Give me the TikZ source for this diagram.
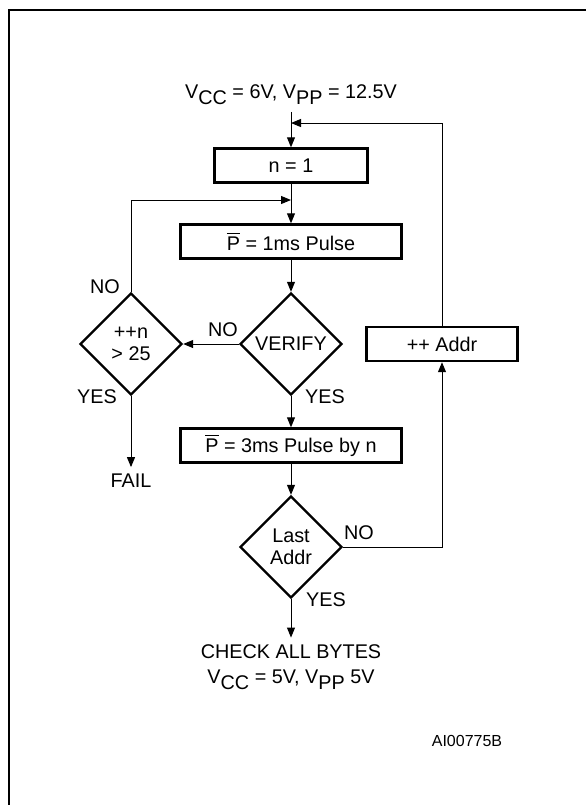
\documentclass[tikz,border=0pt]{standalone}
\usepackage{fontspec}
\setmainfont{Liberation Sans}
\usetikzlibrary{shapes.geometric,arrows.meta}
\newcommand\lowsub[1]{\raisebox{-0.55ex}{#1}}
\newcommand\pbar{$\overline{\mbox{P}}$}
\begin{document}
\begin{tikzpicture}[x=0.5pt,y=-0.5pt,
  every node/.style={font=\fontsize{9.9}{12.5}\selectfont},
  stepbox/.style={draw, rectangle, line width=1.2pt, minimum height=17pt, inner sep=0pt},
  test/.style={draw, diamond, line width=1.2pt, minimum width=51pt, minimum height=51pt, inner sep=0pt, align=center, font=\fontsize{9.9}{11}\selectfont},
  flow/.style={line width=0.5pt, -{Triangle[length=5pt,width=4pt]}}]
\useasboundingbox (0,0) rectangle (586,805);
% frame
\draw[line width=1pt] (9,805) -- (9,10) -- (586,10);
\node (start) at (291,95) {V\lowsub{CC} = 6V, V\lowsub{PP} = 12.5V};
\node[stepbox, minimum width=76.5pt] (n1) at (291,165.5) {n = 1};
\node[stepbox, minimum width=110.5pt] (p1) at (291,241.5) {\pbar\ = 1ms Pulse};
\node[test] (verify) at (291,344) {VERIFY};
\node[test] (inc) at (131,344) {++n\\> 25};
\node (fail) at (131,481) {FAIL};
\node[stepbox, minimum width=110.5pt] (p3) at (291,445.5) {\pbar\ = 3ms Pulse by n};
\node[test] (last) at (291,547) {Last\\Addr};
\node[stepbox, minimum width=75.5pt] (addr) at (442,344) {++ Addr};
\node[align=center] (check) at (291,667) {CHECK ALL BYTES\\V\lowsub{CC} = 5V, V\lowsub{PP} 5V};
\node[font=\fontsize{8}{9}\selectfont] (ref) at (467,741) {AI00775B};
% branch labels
\node (no1) at (105,287) {NO};
\node (no2) at (223,330) {NO};
\node (yes1) at (97,397) {YES};
\node (yes2) at (325,397) {YES};
\node (no3) at (359,533) {NO};
\node (yes3) at (326,600) {YES};
\coordinate (back) at (291,123);
\coordinate (again) at (291,200);
\draw[flow] (start) -- (n1);
\draw[flow] (n1) -- (p1);
\draw[flow] (inc.north) |- (again);
\draw[flow] (p1) -- (verify);
\draw[flow] (verify.west) -- (inc.east);
\draw[flow] (inc.south) -- (fail);
\draw[flow] (verify.south) -- (p3);
\draw[flow] (p3) -- (last);
\draw[flow] (last.east) -| (addr.south);
\draw[flow] (addr.north) |- (back);
\draw[flow] (last.south) -- (check);
\end{tikzpicture}
\end{document}
